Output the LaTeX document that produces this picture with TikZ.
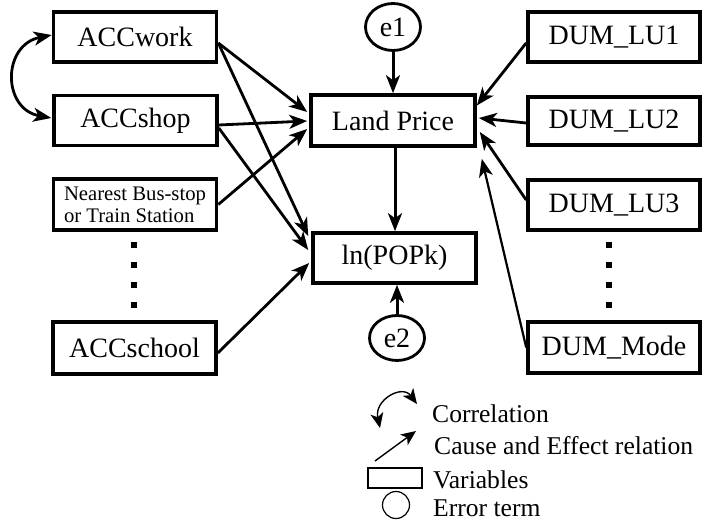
\documentclass[tikz,border=0pt]{standalone}
\usepackage{fontspec}
\setmainfont{Liberation Serif}
\usetikzlibrary{arrows.meta,calc,shapes.geometric}
\begin{document}
\begin{tikzpicture}[x=1pt,y=-1pt,
  var/.style={draw, line width=3.6pt, minimum width=163pt, minimum height=50pt,
    inner sep=0pt, font=\fontsize{28}{30}\selectfont},
  dumvar/.style={var, minimum width=172pt},
  err/.style={draw, ellipse, line width=2.8pt, minimum width=55pt, minimum height=46pt,
    inner sep=0pt, font=\fontsize{28}{30}\selectfont},
  head/.style={Stealth[length=18pt,width=14pt,inset=5pt]},
  cause/.style={line width=2.8pt, -{Stealth[length=18pt,width=14pt,inset=5pt]}},
  thincause/.style={cause, line width=2.2pt},
  corr/.style={line width=2.8pt, {Stealth[length=18pt,width=14pt,inset=5pt]}-{Stealth[length=18pt,width=14pt,inset=5pt]}},
  legline/.style={line width=1.4pt},
  leghead/.style={Stealth[length=15pt,width=13pt,inset=4pt]},
  legtext/.style={anchor=base west, inner sep=0pt, font=\fontsize{25.6}{28}\selectfont},
  vdot/.style={fill=black}
]
\fill[white] (0,0) rectangle (711,526);
\useasboundingbox (0,0) rectangle (711,526);

% explanatory variables (left column)
\node[var] (wk) at (135,37) {ACCwork};
\node[var] (sh) at (135.5,120.5) {ACCshop};
\node[var, minimum height=51pt, font=\fontsize{20.7}{22}\selectfont, align=left] (nb) at (135,204.5)
  {Nearest Bus-stop\\or Train Station};
\node[var, minimum height=52pt] (sc) at (134.5,348) {ACCschool};

% endogenous variables (middle column)
\node[var, minimum width=164pt, minimum height=51pt] (lp) at (393,120.5) {Land Price};
\node[var] (pop) at (394.5,258) {ln(POPk)};

% error terms
\node[err, minimum height=47pt] (e1) at (393,27) {e1};
\node[err, minimum height=45pt] (e2) at (397,338) {e2};

% dummy variables (right column)
\node[dumvar] (d1) at (614,37) {DUM\_LU1};
\node[dumvar, minimum height=48pt] (d2) at (614,121) {DUM\_LU2};
\node[dumvar] (d3) at (614,205) {DUM\_LU3};
\node[dumvar, minimum height=51pt] (dm) at (614,347.5) {DUM\_Mode};

% ellipsis dots
\foreach \yy in {245,265,285,305} {
  \fill[vdot] (131,\yy-3) rectangle (137,\yy+3);
  \fill[vdot] (605.5,\yy-3) rectangle (611.5,\yy+3);
}

% correlation between accessibility measures
\draw[corr] ($(wk.west)+(0,-2)$) .. controls (2,45) and (2,109) .. ($(sh.west)+(-1,-2.5)$);

% paths into land price and population
\draw[cause] ($(wk.east)+(0,6)$) -- ($(lp.west)+(-2,-8.5)$);
\draw[cause] ($(wk.east)+(0,6)$) -- ($(pop.west)+(-3,-22)$);
\draw[cause] ($(sh.east)+(0,4.5)$) -- ($(lp.west)+(-2,0.5)$);
\draw[cause] ($(sh.east)+(0,7.5)$) -- ($(pop.west)+(-3,-8)$);
\draw[cause] (nb.east) -- ($(lp.west)+(-2,8.5)$);
\draw[cause] ($(sc.east)+(0,5)$) -- ($(pop.west)+(-2,5)$);

\draw[cause, line width=3pt] (e1.south) -- (e1.south |- lp.north);
\draw[cause, line width=3pt] (lp.south -| 395,0) -- (pop.north -| 395,0);
\draw[cause, line width=3pt] (e2.north) -- (e2.north |- pop.south);

\draw[cause] ($(d1.west)+(0,6)$) -- ($(lp.east)+(0,-15)$);
\draw[cause] ($(d2.west)+(0,2)$) -- ($(lp.east)+(2,-2.5)$);
\draw[cause] ($(d3.west)+(0,-5)$) -- ($(lp.east)+(3,11.5)$);
\draw[thincause] (dm.west) -- ($(lp.south east)+(5,11)$);

% legend
\coordinate (ca) at (380,428);
\coordinate (cb) at (417,404);
\draw[legline, {Stealth[length=15pt,width=13pt,inset=4pt]}-{Stealth[length=15pt,width=13pt,inset=4pt]}]
  (ca) .. controls (374,400) and (402,384) .. (cb);
\coordinate (pa) at (375,461);
\coordinate (pb) at (416,431);
\draw[legline, -{Stealth[length=15pt,width=13pt,inset=4pt]}] (pa) -- (pb);
\node[draw, line width=1.2pt, minimum width=54pt, minimum height=20pt, inner sep=0pt] (lv) at (395,478) {};
\node[draw, circle, line width=1.2pt, minimum size=27pt, inner sep=0pt] (le) at (396,505) {};

\node[legtext] (t1) at (432,422) {Correlation};
\node[legtext] (t2) at (434,454) {Cause and Effect relation};
\node[legtext] (t3) at (433,488) {Variables};
\node[legtext] (t4) at (433,516) {Error term};
\end{tikzpicture}
\end{document}
